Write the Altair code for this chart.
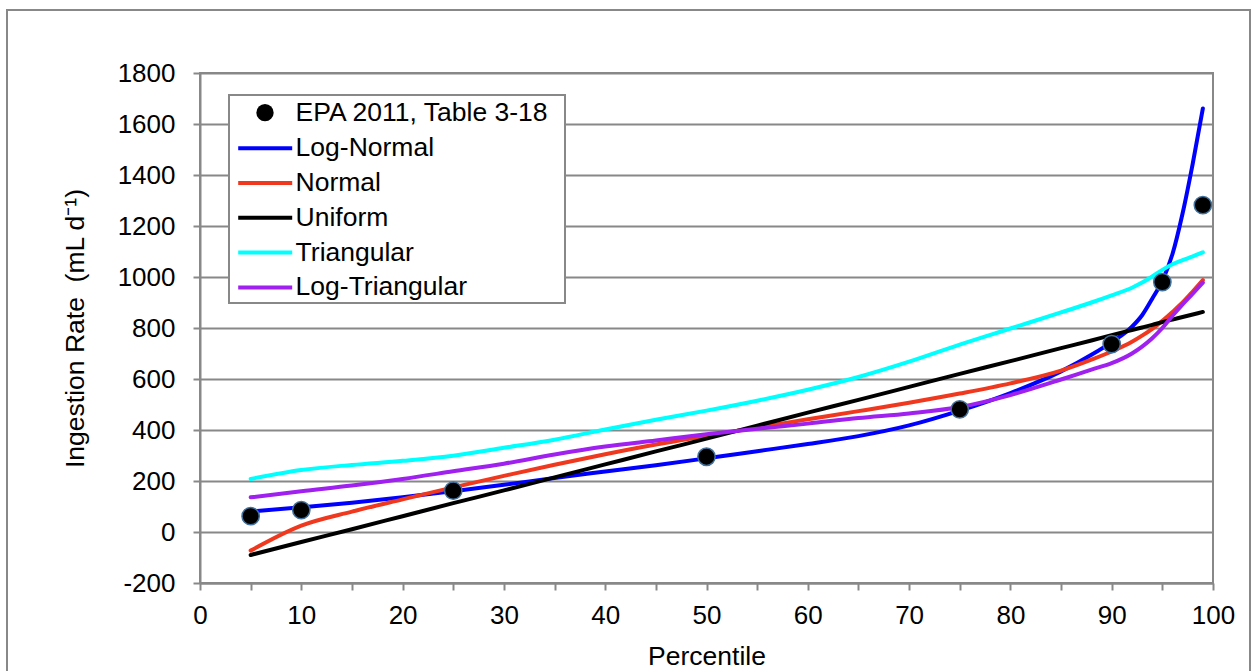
import altair as alt
import pandas as pd

# Percentiles at which the fitted distributions are tabulated
percentile = [5, 10, 15, 20, 25, 30, 35, 40, 45, 50, 55, 60, 65, 70, 75, 80,
              85, 88, 90, 92, 93, 94, 95, 96, 97, 98, 99]

# Ingestion rate (mL/d) for each fitted distribution
log_normal = [80, 97, 115, 136, 160, 185, 212, 237, 262, 289, 317, 345, 376, 418,
              476, 545, 630, 695, 745, 805, 850, 915, 985, 1090, 1250, 1445, 1661]
normal = [-73, 25, 80, 128, 175, 220, 264, 305, 343, 377, 410, 442, 474, 507,
          543, 583, 633, 676, 708, 746, 770, 797, 828, 863, 900, 943, 988]
uniform = [-90, -39, 11, 62, 113, 163, 214, 265, 316, 366, 417, 468, 518, 569,
           620, 670, 721, 751, 772, 792, 802, 812, 823, 833, 843, 853, 863]
triangular = [208, 243, 263, 279, 299, 330, 362, 402, 440, 476, 515, 558, 608, 668,
              735, 798, 861, 900, 928, 958, 978, 1002, 1028, 1050, 1066, 1081, 1097]
log_triangular = [136, 160, 182, 208, 238, 268, 304, 335, 359, 383, 405, 425, 447, 465,
                  490, 537, 598, 637, 662, 700, 727, 760, 800, 848, 893, 935, 978]

# Observed percentiles
epa_label = "EPA 2011, Table 3-18"
epa_percentile = [5, 10, 25, 50, 75, 90, 95, 99]
epa_value = [62, 86, 162, 295, 481, 737, 980, 1282]

series_names = [epa_label, "Log-Normal", "Normal", "Uniform", "Triangular", "Log-Triangular"]
series_colors = ["transparent", "#0000FF", "#F0381E", "#000000", "#00FFFF", "#A020F0"]

curve_values = {
    "Log-Normal": log_normal,
    "Normal": normal,
    "Uniform": uniform,
    "Triangular": triangular,
    "Log-Triangular": log_triangular,
}
curves = pd.DataFrame(
    [
        {"series": name, "order": i, "percentile": p, "value": v}
        for i, (name, vals) in enumerate(curve_values.items())
        for p, v in zip(percentile, vals)
    ]
)
points = pd.DataFrame(
    {"percentile": epa_percentile, "value": epa_value, "source": epa_label}
)

FONT = "Liberation Sans"
GREY = "#888888"

x_enc = alt.X(
    "percentile:Q",
    scale=alt.Scale(domain=[0, 100], nice=False, zero=False),
    axis=alt.Axis(
        title="Percentile",
        values=list(range(0, 101, 5)),
        labelExpr="datum.value % 10 === 0 ? datum.label : ''",
        labelFlush=False,
        grid=False,
        tickSize=7,
        labelPadding=12,
        titlePadding=15,
    ),
)
y_enc = alt.Y(
    "value:Q",
    scale=alt.Scale(domain=[-200, 1800], nice=False, zero=False),
    axis=alt.Axis(
        title="Ingestion Rate\u00a0\u00a0(mL d⁻¹)",
        values=list(range(-200, 1801, 200)),
        labelExpr="'' + datum.value",
        labelFlush=False,
        grid=True,
        tickSize=7,
        labelPadding=18,
        titlePadding=28,
    ),
)

# Outer frame around the whole figure
frame = (
    alt.Chart(alt.Data(values=[{}]))
    .mark_rect(fillOpacity=0, stroke=GREY, strokeWidth=2)
    .encode(x=alt.value(-193), x2=alt.value(1050), y=alt.value(-63), y2=alt.value(700))
)

# White box behind the legend entries
legend_box = (
    alt.Chart(alt.Data(values=[{}]))
    .mark_rect(fill="white", stroke=GREY, strokeWidth=2)
    .encode(x=alt.value(29), x2=alt.value(365), y=alt.value(22), y2=alt.value(230))
)

lines = (
    alt.Chart(curves)
    .mark_line(strokeWidth=4, interpolate="monotone", strokeCap="round")
    .encode(
        x=x_enc,
        y=y_enc,
        color=alt.Color(
            "series:N",
            scale=alt.Scale(domain=series_names, range=series_colors),
            legend=alt.Legend(
                title=None,
                orient="none",
                legendX=29,
                legendY=20.7,
                padding=2.7,
                rowPadding=3.8,
                symbolType="M-1.8,0H1.8",
                symbolSize=900,
                symbolStrokeWidth=4,
                symbolOffset=16.5,
                labelOffset=13.4,
                labelFont=FONT,
                labelFontSize=26.5,
                labelColor="black",
                labelLimit=0,
                zindex=1,
            ),
        ),
        detail="order:O",
    )
)

dots = (
    alt.Chart(points)
    .mark_point(
        shape="circle",
        filled=True,
        fill="black",
        stroke="#41719C",
        strokeWidth=1.5,
        size=300,
        opacity=1,
    )
    .encode(
        x="percentile:Q",
        y="value:Q",
        shape=alt.Shape(
            "source:N",
            scale=alt.Scale(domain=[epa_label], range=["circle"]),
            legend=alt.Legend(
                title=None,
                orient="none",
                legendX=55.5,
                legendY=30.2,
                padding=0,
                symbolSize=300,
                symbolFillColor="black",
                symbolStrokeColor="#41719C",
                symbolStrokeWidth=1.5,
                symbolOpacity=1,
                labelFontSize=1,
                labelExpr="''",
                zindex=2,
            ),
        ),
    )
)

chart = (
    alt.layer(frame, legend_box, lines, dots)
    .properties(
        width=1013,
        height=510,
        padding={"left": 200, "top": 73, "right": 39, "bottom": 88},
        autosize="none",
        background="white",
    )
    .configure_view(stroke=GREY, strokeWidth=2)
    .configure_axis(
        labelFont=FONT,
        labelFontSize=26,
        labelColor="black",
        titleFont=FONT,
        titleFontSize=26.5,
        titleFontWeight="normal",
        titleColor="black",
        domainColor=GREY,
        domainWidth=2,
        tickColor=GREY,
        tickWidth=2,
        gridColor=GREY,
        gridWidth=2,
        labelOverlap=False,
    )
)

chart.save("out.html", embed_options={"renderer": "svg", "actions": False})
